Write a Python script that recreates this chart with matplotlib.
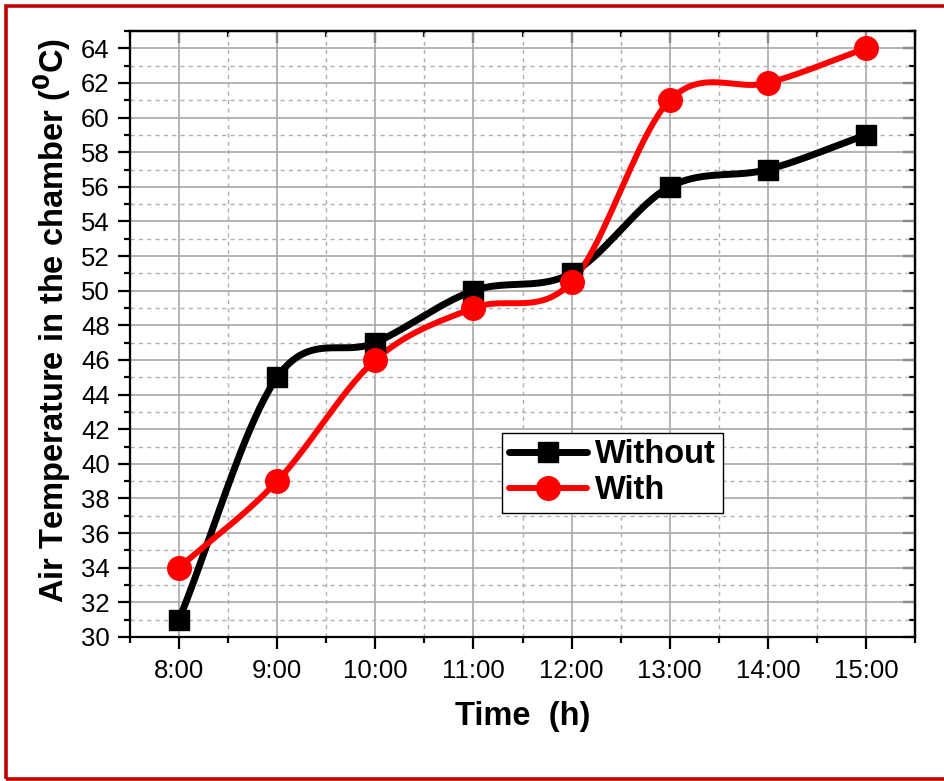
import numpy as np
import matplotlib
matplotlib.use("Agg")
import matplotlib.pyplot as plt
from matplotlib.patches import Rectangle
from matplotlib.ticker import MultipleLocator, FixedLocator

plt.rcParams['font.family'] = ['Liberation Sans', 'DejaVu Sans']

hours = [8, 9, 10, 11, 12, 13, 14, 15]
time_labels = ["8:00", "9:00", "10:00", "11:00", "12:00", "13:00", "14:00", "15:00"]
temp_without = [31, 45, 47, 50, 51, 56, 57, 59]
temp_with = [34, 39, 46, 49, 50.5, 61, 62, 64]


def smooth(x, y, n=40):
    """Cubic Hermite curve through the points with finite-difference tangents."""
    x = np.asarray(x, float)
    y = np.asarray(y, float)
    m = np.empty_like(y)
    m[1:-1] = (y[2:] - y[:-2]) / (x[2:] - x[:-2])
    m[0] = (y[1] - y[0]) / (x[1] - x[0])
    m[-1] = (y[-1] - y[-2]) / (x[-1] - x[-2])
    xs, ys = [], []
    for i in range(len(x) - 1):
        h = x[i + 1] - x[i]
        t = np.linspace(0, 1, n, endpoint=(i == len(x) - 2))
        h00 = 2 * t**3 - 3 * t**2 + 1
        h10 = t**3 - 2 * t**2 + t
        h01 = -2 * t**3 + 3 * t**2
        h11 = t**3 - t**2
        xs.append(x[i] + t * h)
        ys.append(h00 * y[i] + h10 * h * m[i] + h01 * y[i + 1] + h11 * h * m[i + 1])
    return np.concatenate(xs), np.concatenate(ys)


fig = plt.figure(figsize=(9.44, 7.81), dpi=100)
ax = fig.add_axes([0.1377, 0.1844, 0.8316, 0.7759])

# red frame around the figure
fig.patches.append(Rectangle((6 / 944, 2 / 781), 1.2, 773 / 781, transform=fig.transFigure,
                             fill=False, edgecolor='#c00000', linewidth=2.6, zorder=10))

sx, sy = smooth(hours, temp_without)
ax.plot(sx, sy, color='black', linewidth=5, solid_capstyle='round', zorder=3)
ax.plot(hours, temp_without, linestyle='none', marker='s', markersize=15,
        color='black', zorder=4)
rx, ry = smooth(hours, temp_with)
ax.plot(rx, ry, color='red', linewidth=4.3, solid_capstyle='round', zorder=3)
ax.plot(hours, temp_with, linestyle='none', marker='o', markersize=17,
        color='red', zorder=4)

# legend proxies
h1, = ax.plot([], [], color='black', linewidth=5, marker='s', markersize=15,
              solid_capstyle='round')
h2, = ax.plot([], [], color='red', linewidth=4.3, marker='o', markersize=17,
              solid_capstyle='round')
leg = ax.legend([h1, h2], ["Without", "With"], loc='upper left',
                bbox_to_anchor=(0.474, 0.337), frameon=True, fancybox=False,
                edgecolor='black', framealpha=1, handlelength=2.4,
                handletextpad=0.25, borderpad=0.2, labelspacing=0.15,
                borderaxespad=0, prop={'weight': 'bold', 'size': 23.5})
leg.get_frame().set_linewidth(1.0)

ax.set_xlim(7.5, 15.5)
ax.set_ylim(30, 65)
ax.xaxis.set_major_locator(FixedLocator(hours))
ax.set_xticklabels(time_labels)
ax.xaxis.set_minor_locator(MultipleLocator(0.5))
ax.yaxis.set_major_locator(MultipleLocator(2))
ax.yaxis.set_minor_locator(MultipleLocator(1))
ax.set_yticks(np.arange(30, 65, 2))

ax.grid(which='major', color='#a8a8a8', linestyle='-', linewidth=1.2, zorder=0)
ax.grid(which='minor', color='#b0b0b0', linestyle=(0, (3, 3)), linewidth=1.0, zorder=0)
ax.set_axisbelow(True)

for s in ax.spines.values():
    s.set_linewidth(1.6)

ax.tick_params(which='both', direction='out', width=1.6, labelsize=18.5,
               top=False, right=False)
ax.tick_params(which='major', length=8.6)
ax.tick_params(which='minor', length=4.5)
ax.tick_params(axis='x', pad=7)
ax.tick_params(axis='y', pad=6)

# inward ticks on the top and right edges
ax_top = ax.secondary_xaxis('top')
ax_top.xaxis.set_major_locator(FixedLocator(hours))
ax_top.xaxis.set_minor_locator(MultipleLocator(0.5))
ax_top.tick_params(which='both', direction='in', width=1.6, labeltop=False)
ax_top.tick_params(which='major', length=8.6)
ax_top.tick_params(which='minor', length=4.5)
ax_top.spines['top'].set_linewidth(1.6)
ax_right = ax.secondary_yaxis('right')
ax_right.yaxis.set_major_locator(MultipleLocator(2))
ax_right.yaxis.set_minor_locator(MultipleLocator(1))
ax_right.tick_params(which='both', direction='in', width=1.6, labelright=False)
ax_right.tick_params(which='major', length=8.6)
ax_right.tick_params(which='minor', length=4.5)
ax_right.spines['right'].set_linewidth(1.6)

ax.set_xlabel("Time  (h)", fontsize=23.5, fontweight='bold', labelpad=13)
ax.set_ylabel("Air Temperature in the chamber ($\\mathbf{^{0}}$C)", fontsize=23.5,
              fontweight='bold')
ax.yaxis.set_label_coords(-0.072, 0.523)

fig.savefig("out.png", dpi=100)
